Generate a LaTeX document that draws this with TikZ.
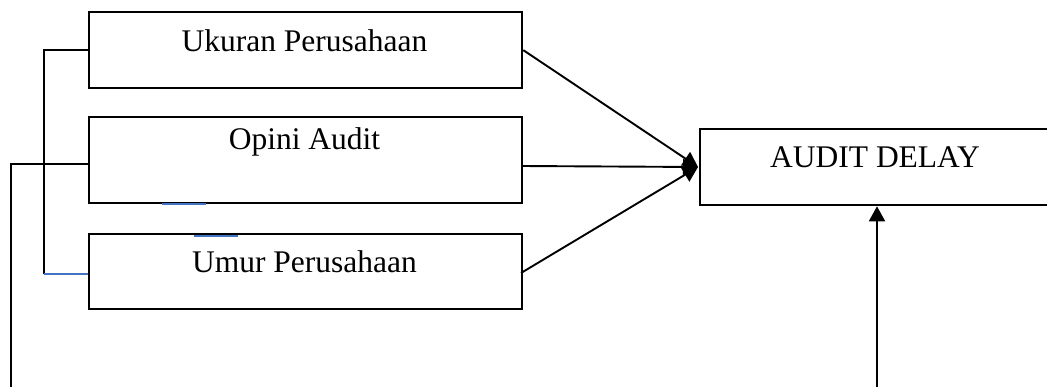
\documentclass[tikz,border=0pt]{standalone}
\usepackage{fontspec}
\setmainfont{Liberation Serif}
\usetikzlibrary{arrows.meta,calc}
\definecolor{bluel}{RGB}{68,114,196}
\begin{document}
\begin{tikzpicture}[x=1pt,y=-1pt,
  box/.style={draw,line width=2.3pt,inner sep=0pt,anchor=north west},
  lbl/.style={font=\fontsize{31.5}{36}\selectfont,anchor=base,inner sep=0pt},
  conn/.style={line width=1.9pt},
  arr/.style={conn,-{Triangle[length=15pt,width=16pt]}},
  blu/.style={draw=bluel,line width=1.9pt}]
\useasboundingbox (0,0) rectangle (1047,387);
% boxes
\node[box,minimum width=433pt,minimum height=76pt] (uk) at (88,11) {};
\node[box,minimum width=433pt,minimum height=86pt] (op) at (88,116) {};
\node[box,minimum width=433pt,minimum height=75pt] (um) at (88,233) {};
\node[box,minimum width=352pt,minimum height=76pt] (ad) at (699,128) {};
% labels
\node[lbl] (tuk) at (304.5,52) {Ukuran Perusahaan};
\node[lbl] (top) at (304.5,150) {Opini Audit};
\node[lbl] (tum) at (304.5,273) {Umur Perusahaan};
\node[lbl] (tad) at (875,168) {AUDIT DELAY};
% coordinates
\coordinate (tip) at (698,167);
\coordinate (opE) at (521,166);
\coordinate (umE) at (521,273);
\coordinate (opW) at (88,164);
\coordinate (umW) at (88,274);
\coordinate (brB) at (44,274);
\coordinate (outB) at (11,387);
\coordinate (upB) at (877,387);
% arrows into AUDIT DELAY
\draw[arr] (uk.east) -- (tip);
\draw[arr] (opE) -- (tip);
\draw[arr] (umE) -- (tip);
\draw[arr] (upB) -- (ad.south -| upB);
% left bracket
\draw[conn] (uk.west) -| (brB);
\draw[blu] (brB) -- (umW);
\draw[conn] (opW) -| (outB);
% stray blue marks
\coordinate (m1a) at (162,204); \coordinate (m1b) at (206,204);
\coordinate (m2a) at (194,236); \coordinate (m2b) at (238,236);
\draw[blu] (m1a) -- (m1b);
\draw[blu] (m2a) -- (m2b);
\end{tikzpicture}
\end{document}
